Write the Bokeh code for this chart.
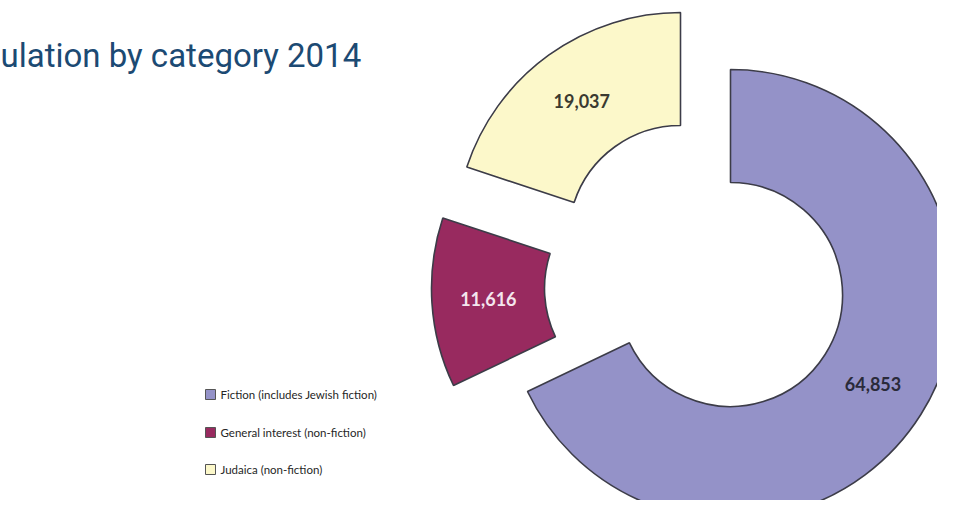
import math
from bokeh.plotting import figure
from bokeh.models import Range1d, ColumnDataSource
from bokeh.core.properties import value
from bokeh.embed import file_html
from bokeh.resources import INLINE

# ---- data ----
categories = ["Fiction (includes Jewish fiction)",
              "General interest (non-fiction)",
              "Judaica (non-fiction)"]
circulation = [64853, 11616, 19037]
value_labels = ["64,853", "11,616", "19,037"]
title_text = "ulation by category 2014"

# ---- style ----
fills = ["#9492c8", "#982a5f", "#fcf8ca"]
label_colors = ["#2a2a3a", "#f4e6ee", "#3a3a30"]
explode = [(0, 0), (-74, 6), (-50, 57)]   # pixel offsets of exploded slices
cx, cy = 730, 222
r_in, r_out = 112, 225

W, H = 937, 500
p = figure(width=W, height=H, output_backend="svg", toolbar_location=None,
           x_range=Range1d(0, W), y_range=Range1d(516 - H, 516),
           min_border=0, outline_line_color=None, background_fill_color="white",
           border_fill_color="white")
p.axis.visible = False
p.grid.visible = False

total = float(sum(circulation))
cum = 0.0
xs, ys, starts, ends, lx, ly = [], [], [], [], [], []
for v, (dx, dy) in zip(circulation, explode):
    a_end = 90 - 360 * cum / total
    cum += v
    a_start = 90 - 360 * cum / total
    xs.append(cx + dx)
    ys.append(cy + dy)
    starts.append(math.radians(a_start))
    ends.append(math.radians(a_end))
    mid = math.radians((a_start + a_end) / 2)
    rm = (r_in + r_out) / 2
    lx.append(cx + dx + rm * math.cos(mid))
    ly.append(cy + dy + rm * math.sin(mid))

src = ColumnDataSource(dict(x=xs, y=ys, s=starts, e=ends, fill=fills,
                            lx=lx, ly=ly, lab=value_labels, lc=label_colors))
p.annular_wedge(x="x", y="y", inner_radius=r_in, outer_radius=r_out,
                start_angle="s", end_angle="e", fill_color="fill",
                line_color="#3c3c48", line_width=1.6, source=src)
p.text(x="lx", y="ly", text="lab", text_color="lc", source=src,
       text_font=value("Lato"), text_font_size="18px", text_font_style="bold",
       text_align="center", text_baseline="middle")

# legend
leg_y = [516 - 394, 516 - 432, 516 - 469]
p.scatter(x=[210] * 3, y=leg_y, marker="square", size=10, fill_color=fills,
          line_color="#555555", line_width=1)
p.text(x=[220] * 3, y=leg_y, text=categories, text_color="#262626",
       text_font=value("Lato"), text_font_size="11.5px",
       text_align="left", text_baseline="middle")

# title (cropped in original)
p.text(x=[0], y=[516 - 55], text=[title_text], text_color="#1c4a73",
       text_font=value("Roboto"), text_font_size="33px",
       text_align="left", text_baseline="alphabetic")

open("out.html", "w").write(file_html(p, INLINE))
